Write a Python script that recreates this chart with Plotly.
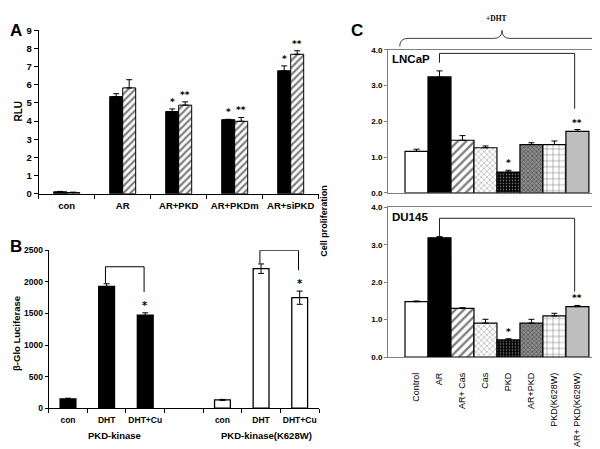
import plotly.graph_objects as go

W, H = 600, 449


def px(x):
    return x / W


def py(y):
    return 1 - y / H


# ---------------- data ----------------
# Panel A
a_categories = ["con", "AR", "AR+PKD", "AR+PKDm", "AR+siPKD"]
a_solid = [0.11, 5.35, 4.53, 4.08, 6.77]
a_solid_err = [0.02, 0.16, 0.14, 0.02, 0.27]
a_hatched = [0.07, 5.83, 4.88, 3.99, 7.68]
a_hatched_err = [0.02, 0.45, 0.18, 0.21, 0.19]
a_solid_sig = ["", "", "*", "*", "*"]
a_hatched_sig = ["", "", "**", "**", "**"]
a_yticks = [0, 1, 2, 3, 4, 5, 6, 7, 8, 9]

# Panel B
b_groups = ["PKD-kinase", "PKD-kinase(K628W)"]
b_treatments = ["con", "DHT", "DHT+Cu"]
b_kinase = [145, 1930, 1475]
b_kinase_err = [12, 40, 35]
b_k628w = [130, 2210, 1750]
b_k628w_err = [8, 75, 105]
b_sig = ["", "", "*"]
b_bracket_top = [2240, 2500]
b_yticks = [0, 500, 1000, 1500, 2000, 2500]

# Panel C
c_categories = ["Control", "AR", "AR+ Cas", "Cas", "PKD", "AR+PKD",
                "PKD(K628W)", "AR+ PKD(K628W)"]
c_lncap = [1.16, 3.24, 1.47, 1.26, 0.58, 1.35, 1.35, 1.72]
c_lncap_err = [0.06, 0.17, 0.13, 0.05, 0.05, 0.05, 0.10, 0.05]
c_du145 = [1.48, 3.19, 1.30, 0.91, 0.46, 0.91, 1.10, 1.35]
c_du145_err = [0.02, 0.03, 0.02, 0.10, 0.03, 0.10, 0.07, 0.03]
c_sig = ["", "", "", "", "*", "", "", "**"]
c_bracket_top = [3.9, 3.71]
c_yticks = [0, 1, 2, 3, 4]

# ---------------- styles ----------------
FONT = "Liberation Sans, Arial, sans-serif"
STAR_FONT = "DejaVu Sans, Liberation Sans, sans-serif"
c_styles = [
    dict(color="white"),
    dict(color="black"),
    dict(color="white", pattern=dict(shape="/", fgcolor="black", bgcolor="white", size=6, solidity=0.4)),
    dict(color="white", pattern=dict(shape="x", fgcolor="#707070", bgcolor="white", size=4, solidity=0.35)),
    dict(color="black", pattern=dict(shape=".", fgcolor="white", bgcolor="black", size=3, solidity=0.25)),
    dict(color="#555555", pattern=dict(shape="x", fgcolor="#222222", bgcolor="#8c8c8c", size=3, solidity=0.45)),
    dict(color="white", pattern=dict(shape="+", fgcolor="black", bgcolor="white", size=6, solidity=0.18)),
    dict(color="#c4c4c4", pattern=dict(shape="|", fgcolor="#959595", bgcolor="#cacaca", size=2, solidity=0.45)),
]

fig = go.Figure()

# ---- Panel A ----
BW = 0.232
fig.add_trace(go.Bar(
    x=a_categories, y=a_solid, xaxis="x", yaxis="y", width=BW, offset=-BW,
    marker=dict(color="black", line=dict(color="black", width=1)),
    error_y=dict(type="data", array=a_solid_err, arrayminus=[0] * len(a_solid),
                 symmetric=False, color="black", thickness=1, width=3),
    showlegend=False))
fig.add_trace(go.Bar(
    x=a_categories, y=a_hatched, xaxis="x", yaxis="y", width=BW, offset=0,
    marker=dict(color="white", line=dict(color="black", width=1),
                pattern=dict(shape="/", fgcolor="black", bgcolor="white",
                             size=5, solidity=0.45)),
    error_y=dict(type="data", array=a_hatched_err, arrayminus=[0] * len(a_hatched),
                 symmetric=False, color="black", thickness=1, width=3),
    showlegend=False))

# ---- Panel B ----
b_x = [0, 1, 2, 4, 5, 6]
fig.add_trace(go.Bar(
    x=b_x, y=b_kinase + b_k628w, xaxis="x2", yaxis="y2", width=0.41,
    marker=dict(color=["black"] * 3 + ["white"] * 3, line=dict(color="black", width=1.3)),
    error_y=dict(type="data", array=b_kinase_err + b_k628w_err, color="black",
                 thickness=1, width=3),
    showlegend=False))

# ---- Panel C ----
for vals, errs, xa, ya in [(c_lncap, c_lncap_err, "x3", "y3"),
                           (c_du145, c_du145_err, "x4", "y4")]:
    for i, cat in enumerate(c_categories):
        st = dict(c_styles[i])
        st["line"] = dict(color="black", width=1.2)
        fig.add_trace(go.Bar(
            x=[cat], y=[vals[i]], xaxis=xa, yaxis=ya, width=1,
            marker=st,
            error_y=dict(type="data", array=[errs[i]], arrayminus=[0],
                         symmetric=False, color="black", thickness=1, width=3),
            showlegend=False))

annotations = []
shapes = []


def ann(x, y, text, size, xref="paper", yref="paper", bold=True, **kw):
    d = dict(x=x, y=y, text=text, xref=xref, yref=yref, showarrow=False,
             font=dict(family=kw.pop("family", FONT), size=size, color="#000000",
                       weight="bold" if bold else "normal"))
    d.update(kw)
    annotations.append(d)


# panel letters
ann(px(0), py(17), "A", 17, xanchor="left", yanchor="middle")
ann(px(0), py(238), "B", 17, xanchor="left", yanchor="middle")
ann(px(341), py(17), "C", 17, xanchor="left", yanchor="middle")

# axis titles
ann(px(11), py(100), "RLU", 10, textangle=-90, xanchor="center", yanchor="middle")
ann(px(9), py(328), "β-Glo Luciferase", 9.5, textangle=-90, xanchor="center", yanchor="middle")
ann(px(316), py(212), "Cell proliferation", 9, textangle=-90, xanchor="center", yanchor="middle")

# A significance
for i, s in enumerate(a_solid_sig):
    if s:
        ann(i - BW / 2, a_solid[i] + a_solid_err[i], s, 9, xref="x", yref="y",
            family=STAR_FONT, xanchor="center", yanchor="bottom")
for i, s in enumerate(a_hatched_sig):
    if s:
        ann(i + BW / 2, a_hatched[i] + a_hatched_err[i], s, 9, xref="x", yref="y",
            family=STAR_FONT, xanchor="center", yanchor="bottom")

# B group labels
ann(1.2, py(432), b_groups[0], 9.5, xref="x2", xanchor="center", yanchor="middle")
ann(5.15, py(432), b_groups[1], 9.5, xref="x2", xanchor="center", yanchor="middle")

# B significance + brackets
for g, (vals, errs, x0) in enumerate([(b_kinase, b_kinase_err, 0), (b_k628w, b_k628w_err, 4)]):
    for i, s in enumerate(b_sig):
        if s:
            ann(x0 + i, vals[i] + errs[i], s, 10, xref="x2", yref="y2",
                family=STAR_FONT, xanchor="center", yanchor="bottom")
    top = b_bracket_top[g]
    left_bottom = vals[1] + errs[1] + 10
    right_bottom = vals[2] + errs[2] + 330
    xl, xr = x0 + 0.97, x0 + 1.97
    for (xa0, ya0, xa1, ya1) in [(xl, left_bottom, xl, top), (xl, top, xr, top),
                                 (xr, top, xr, right_bottom)]:
        shapes.append(dict(type="line", xref="x2", yref="y2", x0=xa0, y0=ya0,
                           x1=xa1, y1=ya1, line=dict(color="black", width=1)))

# C labels
ann(px(382), py(46), "LNCaP", 11.5, xanchor="left", yanchor="middle")
ann(px(382), py(208), "DU145", 11.5, xanchor="left", yanchor="middle")
ann(px(489), py(5), "+DHT", 7.5, family="Liberation Serif, Times New Roman, serif",
    xanchor="center", yanchor="middle")

# C significance + brackets
for k, (vals, errs, xa, ya, gap_l, gap_r) in enumerate(
        [(c_lncap, c_lncap_err, "x3", "y3", 0.23, 0.58),
         (c_du145, c_du145_err, "x4", "y4", 0.0, 0.37)]):
    for i, s in enumerate(c_sig):
        if s:
            ann(i, vals[i] + errs[i], s, 9, xref=xa, yref=ya,
                family=STAR_FONT, xanchor="center", yanchor="bottom")
    top = c_bracket_top[k]
    lb = vals[1] + errs[1] + gap_l
    rb = vals[7] + errs[7] + gap_r
    xl, xr = 1, 6.88
    for (xa0, ya0, xa1, ya1) in [(xl, lb, xl, top), (xl, top, xr, top),
                                 (xr, top, xr, rb)]:
        shapes.append(dict(type="line", xref=xa, yref=ya, x0=xa0, y0=ya0,
                           x1=xa1, y1=ya1, line=dict(color="#222222", width=1)))

# curly brace over panel C
pts = ("M {a} {b} Q {a} {c} {d} {c} L {e} {c} Q {f} {c} {f} {g} Q {f} {c} {h} {c} "
       "L {i} {c} Q {j} {c} {j} {b}").format(
    a=px(391.7), b=py(33.3), c=py(25), d=px(400), e=px(486), f=px(494), g=py(16.7),
    h=px(502), i=px(589), j=px(596.7))
shapes.append(dict(type="path", xref="paper", yref="paper", path=pts,
                   line=dict(color="#444444", width=1)))

tickA = dict(family=FONT, size=9.5, color="black", weight="bold")
tickB = dict(family=FONT, size=8.5, color="black", weight="bold")
tickC = dict(family=FONT, size=8, color="black", weight="bold")
GRAY = "#808080"

fig.update_layout(
    width=W, height=H, margin=dict(l=0, r=0, t=0, b=0),
    paper_bgcolor="white", plot_bgcolor="rgba(0,0,0,0)",
    barmode="overlay",
    annotations=annotations, shapes=shapes,
    xaxis=dict(domain=[px(30.7), px(310.7)], anchor="y", type="category",
               tickson="boundaries", ticks="outside", ticklen=4, tickcolor="black",
               tickangle=0,
               showline=True, linecolor="black", linewidth=1, showgrid=False,
               tickfont=tickA, ticklabelstandoff=3),
    yaxis=dict(domain=[py(184.3), py(16.7)], anchor="x", range=[0, 9],
               tickvals=a_yticks, ticks="outside", ticklen=4, tickcolor="black",
               showline=True, linecolor="black", linewidth=1, showgrid=False,
               zeroline=False, tickfont=tickA),
    xaxis2=dict(domain=[px(40.7), px(311)], anchor="y2", range=[-0.5, 6.5],
                tickvals=b_x, ticktext=b_treatments * 2, tickangle=0,
                ticks="outside", ticklen=4, tickcolor="rgba(0,0,0,0)",
                minor=dict(tickvals=[-0.5 + i for i in range(8)], ticks="outside",
                           ticklen=4, tickcolor="black", showgrid=False),
                showline=True, linecolor="black", linewidth=1, showgrid=False,
                zeroline=False, tickfont=tickB),
    yaxis2=dict(domain=[py(404), py(242.3)], anchor="x2", range=[0, 2500],
                tickvals=b_yticks, ticks="outside", ticklen=3, tickcolor="black",
                showline=True, linecolor="black", linewidth=1, showgrid=False,
                zeroline=False, tickfont=tickB),
    xaxis3=dict(domain=[px(380), px(597)], anchor="y3", type="category",
                range=[-1.24, 8.2], showticklabels=False, ticks="",
                showline=True, mirror=True, linecolor=GRAY, linewidth=1,
                showgrid=False),
    yaxis3=dict(domain=[py(183.3), py(36.7)], anchor="x3", range=[0, 4],
                tickvals=c_yticks, tickformat=".1f", ticks="outside", ticklen=3,
                tickcolor=GRAY, showline=True, mirror=True, linecolor=GRAY,
                linewidth=1, showgrid=False, zeroline=False, tickfont=tickC),
    xaxis4=dict(domain=[px(380), px(597)], anchor="y4", type="category",
                range=[-1.24, 8.2], tickangle=-90, ticks="",
                ticklabelstandoff=11,
                showline=True, mirror=True, linecolor=GRAY, linewidth=1,
                showgrid=False, tickfont=dict(family=FONT, size=9, color="black")),
    yaxis4=dict(domain=[py(351.7), py(198.3)], anchor="x4", range=[0, 4],
                tickvals=c_yticks, tickformat=".1f", ticks="outside", ticklen=3,
                tickcolor=GRAY, showline=True, mirror=True, linecolor=GRAY,
                linewidth=1, showgrid=False, zeroline=False, tickfont=tickC),
)

fig.write_html("out.html")
